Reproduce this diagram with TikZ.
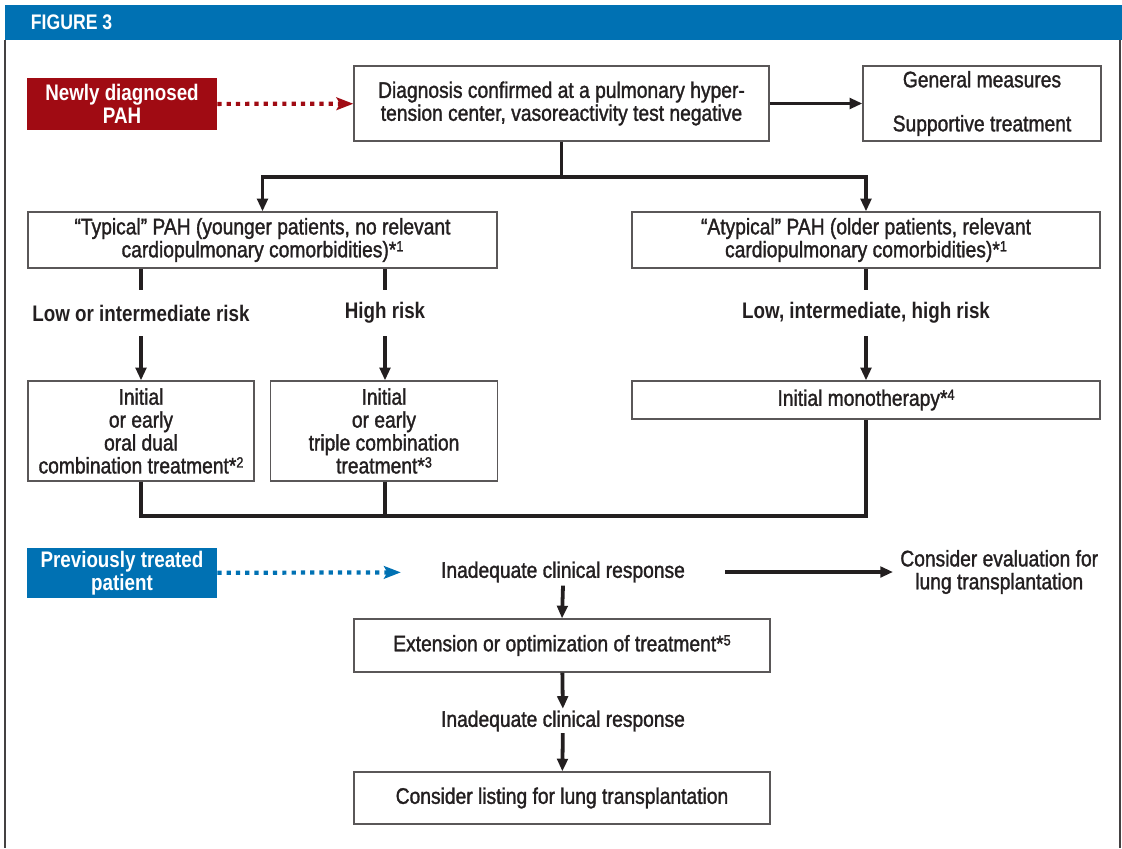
\documentclass[tikz,border=0pt]{standalone}
\usepackage{fontspec}
\setmainfont{Liberation Sans}[FakeStretch=0.85, BoldFeatures={FakeStretch=0.835}]
\newfontfamily\medfont{Liberation Sans}[FakeStretch=0.855, FakeBold=1.4]
\usetikzlibrary{arrows.meta}
\definecolor{figblue}{RGB}{0,113,179}
\definecolor{figred}{RGB}{160,11,19}
\definecolor{ink}{RGB}{35,31,32}
\newcommand\figfont{\fontsize{16}{16.3}\selectfont\lineskiplimit=-20pt}
\newcommand\fnote[1]{*\raisebox{0.5ex}{\fontsize{10.5}{10.5}\selectfont#1}}

\begin{document}
\begin{tikzpicture}[x=0.025cm,y=-0.025cm,
    every node/.style={text=ink, font=\figfont\medfont}]
          \tikzstyle{box}=[draw=ink!75, line width=0.9pt, fill=white, align=center, inner sep=0pt]
          \tikzstyle{tag}=[fill=#1, align=center, inner sep=0pt, text=white, font=\figfont\bfseries]
          \tikzstyle{risk}=[align=center, minimum height=1.15cm, inner sep=0pt, font=\figfont\bfseries]
          \tikzstyle{conn}=[draw=ink, line width=2.7pt]
          \tikzstyle{arr}=[conn, -{Triangle[length=9pt,width=7.5pt]}]
          \tikzstyle{dots}=[line width=3pt, dash pattern=on 3pt off 3.6pt, -{Stealth[length=12pt,width=9pt,inset=2.5pt]}]
          \useasboundingbox (0,0) rectangle (1122,848);
          \fill[figblue] (5,5) rectangle (1122,40);
          \draw[ink!85, line width=1.3pt] (5,40) -- (5,848) (1120,40) -- (1120,848);
          \node[anchor=west, text=white, font=\fontsize{15}{16}\selectfont\bfseries] (figtitle) at (26,22) {FIGURE 3};

          \node[tag=figred, minimum width=4.75cm, minimum height=1.3cm] (newpah) at (122,104) {Newly diagnosed\\PAH};
          \node[box, minimum width=10.375cm, minimum height=1.875cm] (diag) at (561.5,103.5)
              {Diagnosis confirmed at a pulmonary hyper-\\tension center, vasoreactivity test negative};
          \node[box, minimum width=5.95cm, minimum height=1.875cm] (general) at (982,103.5)
              {General measures\\[15pt]Supportive treatment};
          \node[box, minimum width=11.725cm, minimum height=1.4cm] (typical) at (262.5,240)
              {“Typical” PAH (younger patients, no relevant\\cardiopulmonary comorbidities)\fnote{1}};
          \node[box, minimum width=11.7cm, minimum height=1.4cm] (atypical) at (866,240)
              {“Atypical” PAH (older patients, relevant\\cardiopulmonary comorbidities)\fnote{1}};
          \node[risk] (lowint) at (141,313) {Low or intermediate risk};
          \node[risk] (highrisk) at (385,313) {High risk};
          \node[risk] (allrisk) at (866,313) {Low, intermediate, high risk};
          \node[box, minimum width=5.65cm, minimum height=2.5cm] (dual) at (141,431)
              {Initial\\or early\\oral dual\\combination treatment\fnote{2}};
          \node[box, minimum width=5.675cm, minimum height=2.5cm] (triple) at (384,431)
              {Initial\\or early\\triple combination\\treatment\fnote{3}};
          \node[box, minimum width=11.7cm, minimum height=0.95cm] (mono) at (866,400)
              {Initial monotherapy\fnote{4}};

          \node[tag=figblue, minimum width=4.75cm, minimum height=1.25cm] (prevpat) at (122,573) {Previously treated\\patient};
          \node[inner xsep=1cm, inner ysep=2pt] (inadeqa) at (563,572) {Inadequate clinical response};
          \node[anchor=west, align=center, inner xsep=5pt] (evallung) at (893,572) {Consider evaluation for\\lung transplantation};
          \node[box, minimum width=10.4cm, minimum height=1.325cm] (extend) at (562,645.5)
              {Extension or optimization of treatment\fnote{5}};
          \node[inner ysep=1pt] (inadeqb) at (563,721) {Inadequate clinical response};
          \node[box, minimum width=10.4cm, minimum height=1.3cm] (listing) at (562,798)
              {Consider listing for lung transplantation};

          \draw[dots, draw=figred, figred] (newpah) -- (diag);
          \draw[arr] (diag) -- (general);
          \draw[conn] (diag.south) -- ++(0,35) coordinate (split);
          \draw[arr] (split) -| (typical.north);
          \draw[arr] (split) -| (atypical.north);
          \draw[conn] (typical.south -| lowint) -- (lowint.north);
          \draw[conn] (typical.south -| highrisk) -- (highrisk.north);
          \draw[conn] (atypical.south -| allrisk) -- (allrisk.north);
          \draw[arr] (lowint) -- (dual);
          \draw[arr] (highrisk) -- (highrisk |- triple.north);
          \draw[arr] (allrisk) -- (mono);
          \draw[conn] (dual.south) -- ++(0,34) -| (mono.south);
          \draw[conn] (triple.south -| highrisk) -- ++(0,34);

          \draw[dots, draw=figblue, figblue] (prevpat) -- (inadeqa);
          \draw[arr] (inadeqa) -- (evallung);
          \draw[arr] (inadeqa.south) -- (extend.north);
          \draw[arr] (extend) -- (inadeqb);
          \draw[arr] (inadeqb) -- (listing);
      \end{tikzpicture}
\end{document}
